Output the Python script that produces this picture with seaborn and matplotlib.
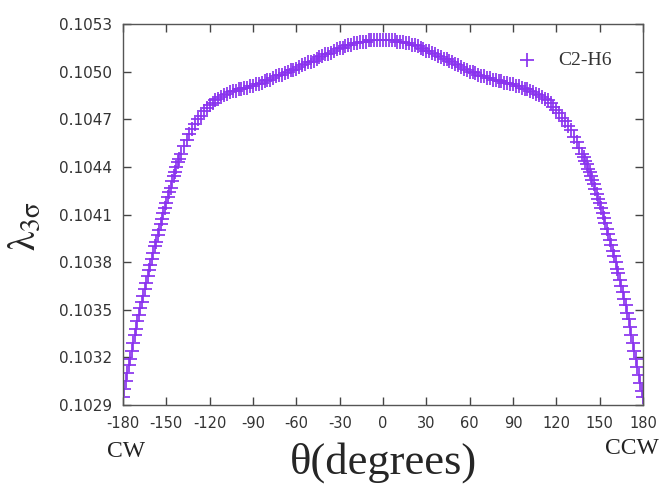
import matplotlib
matplotlib.use("Agg")
import matplotlib.pyplot as plt
import seaborn as sns
import pandas as pd

theta_left_edge = list(range(-180, -139))
lam_left_edge = [0.10295, 0.10300, 0.10305, 0.10310, 0.10315, 0.10319, 0.10324, 0.10329,
                 0.10334, 0.10338, 0.10343, 0.10347, 0.10351, 0.10355, 0.10359, 0.10363,
                 0.10367, 0.10371, 0.10375, 0.10378, 0.10382, 0.10386, 0.10390, 0.10393,
                 0.10397, 0.10400, 0.10404, 0.10407, 0.10411, 0.10414, 0.10417, 0.10421,
                 0.10424, 0.10427, 0.10431, 0.10434, 0.10437, 0.10440, 0.10443, 0.10445,
                 0.10448]

theta_mid = list(range(-138, 139, 2))
lam_mid = [0.10453, 0.10457, 0.10461, 0.10464, 0.10467, 0.10470, 0.10472, 0.10475,
           0.10477, 0.10479, 0.10480, 0.10482, 0.10483, 0.10484, 0.10485, 0.10486,
           0.10487, 0.10488, 0.10488, 0.10489, 0.10489, 0.10490, 0.10490, 0.10491,
           0.10491, 0.10492, 0.10492, 0.10493, 0.10494, 0.10495, 0.10495, 0.10496,
           0.10497, 0.10498, 0.10498, 0.10499, 0.10500, 0.10501, 0.10501, 0.10502,
           0.10503, 0.10504, 0.10505, 0.10506, 0.10506, 0.10507, 0.10508, 0.10509,
           0.10510, 0.10511, 0.10511, 0.10512, 0.10513, 0.10514, 0.10515, 0.10515,
           0.10516, 0.10517, 0.10517, 0.10518, 0.10518, 0.10519, 0.10519, 0.10519,
           0.10520, 0.10520, 0.10520, 0.10520, 0.10520, 0.10520,
           0.10520, 0.10520, 0.10520, 0.10520, 0.10519, 0.10519, 0.10519, 0.10518,
           0.10518, 0.10517, 0.10517, 0.10516, 0.10515, 0.10514, 0.10513, 0.10513,
           0.10512, 0.10511, 0.10510, 0.10509, 0.10508, 0.10508, 0.10507, 0.10506,
           0.10505, 0.10504, 0.10503, 0.10502, 0.10501, 0.10500, 0.10500, 0.10499,
           0.10498, 0.10497, 0.10497, 0.10496, 0.10496, 0.10495, 0.10495, 0.10494,
           0.10494, 0.10493, 0.10493, 0.10492, 0.10492, 0.10491, 0.10491, 0.10490,
           0.10489, 0.10489, 0.10488, 0.10487, 0.10486, 0.10485, 0.10484, 0.10483,
           0.10482, 0.10480, 0.10478, 0.10476, 0.10474, 0.10471, 0.10469, 0.10466,
           0.10463, 0.10459, 0.10456, 0.10452, 0.10448]

theta_right_edge = list(range(139, 181))
lam_right_edge = [0.10446, 0.10444, 0.10442, 0.10439, 0.10437, 0.10434, 0.10432, 0.10429,
                  0.10426, 0.10423, 0.10420, 0.10417, 0.10414, 0.10411, 0.10408, 0.10405,
                  0.10401, 0.10398, 0.10394, 0.10391, 0.10387, 0.10384, 0.10380, 0.10376,
                  0.10373, 0.10369, 0.10365, 0.10361, 0.10357, 0.10353, 0.10348, 0.10344,
                  0.10339, 0.10334, 0.10329, 0.10324, 0.10319, 0.10314, 0.10309, 0.10304,
                  0.10299, 0.10295]

x_ticks = [-180, -150, -120, -90, -60, -30, 0, 30, 60, 90, 120, 150, 180]
y_ticks = [0.1029, 0.1032, 0.1035, 0.1038, 0.1041, 0.1044, 0.1047, 0.1050, 0.1053]
y_tick_labels = ["0.1029", "0.1032", "0.1035", "0.1038", "0.1041", "0.1044",
                 "0.1047", "0.1050", "0.1053"]
series_name = "C2-H6"

df = pd.DataFrame({
    "theta": theta_left_edge + theta_mid + theta_right_edge,
    "lam": lam_left_edge + lam_mid + lam_right_edge,
})

sns.set_style("ticks")
plt.rcParams["mathtext.fontset"] = "stix"

fig = plt.figure(figsize=(6.65, 4.91), dpi=100)
ax = fig.add_axes([0.185, 0.175, 0.782, 0.776])

color = "#8a33ee"
sns.scatterplot(data=df, x="theta", y="lam", marker="+", s=110, color=color,
                linewidth=1.25, label=series_name, ax=ax)

ax.set_xlim(-180, 180)
ax.set_ylim(0.1029, 0.1053)
ax.set_xticks(x_ticks)
ax.set_xticklabels([str(t) for t in x_ticks])
ax.set_yticks(y_ticks)
ax.set_yticklabels(y_tick_labels)

for s in ax.spines.values():
    s.set_color("#555555")
    s.set_linewidth(1.0)
ax.tick_params(direction="in", length=6, width=1, color="#444444",
               top=True, right=True, labelcolor="#333333")
ax.tick_params(axis="x", pad=8, labelsize=10.5)
ax.tick_params(axis="y", pad=8, labelsize=11)
for lab in ax.get_xticklabels() + ax.get_yticklabels():
    lab.set_family("DejaVu Sans")

ax.set_xlabel("θ(degrees)", family="Liberation Serif", fontsize=32, labelpad=8)
ax.set_ylabel(r"$\mathrm{\lambda_{3\sigma}}$", fontsize=28, labelpad=12)
ax.yaxis.set_label_coords(-0.155, 0.47)

fig.text(0.161, 0.081, "CW", family="Liberation Serif", fontsize=17,
         ha="left", va="center", color="#222222")
fig.text(0.99, 0.086, "CCW", family="Liberation Serif", fontsize=17,
         ha="right", va="center", color="#222222")

leg = ax.legend(loc="upper right", frameon=False,
                prop={"family": "Liberation Serif", "size": 14},
                handletextpad=0.6, borderaxespad=0.8, bbox_to_anchor=(0.985, 0.99))
for t in leg.get_texts():
    t.set_color("#333333")

fig.savefig("out.png", dpi=100, facecolor="white")
